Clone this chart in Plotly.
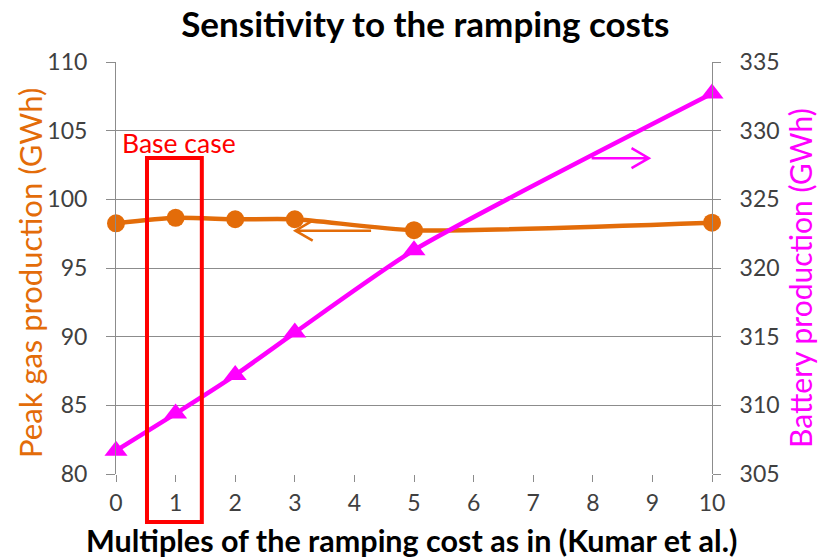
import plotly.graph_objects as go

multiples = [0, 1, 2, 3, 5, 10]
peak_gas = [98.25, 98.65, 98.55, 98.55, 97.75, 98.3]
battery = [306.7, 309.4, 312.2, 315.3, 321.3, 332.7]

ORANGE = '#E36C09'
MAGENTA = '#FF00FF'
GRID = '#8C8C8C'
TICKS = '#404040'
FONT = 'Lato'

fig = go.Figure()

fig.add_trace(go.Scatter(
    x=multiples, y=peak_gas,
    mode='lines+markers',
    line=dict(color=ORANGE, width=4.5, shape='spline', smoothing=0.6),
    marker=dict(symbol='circle', size=18, color=ORANGE),
    cliponaxis=False,
    showlegend=False
))

fig.add_trace(go.Scatter(
    x=multiples, y=battery,
    mode='lines+markers',
    line=dict(color=MAGENTA, width=4.5, shape='spline', smoothing=0.6),
    marker=dict(symbol='triangle-up', size=20, color=MAGENTA),
    cliponaxis=False,
    yaxis='y2',
    showlegend=False
))

# direction arrows and base case box
shapes = [
    dict(type='path', xref='x', yref='y',
         path='M 4.28,97.72 L 3.01,97.72 M 3.30,98.45 L 3.01,97.72 L 3.30,96.99',
         line=dict(color=ORANGE, width=2.5)),
    dict(type='path', xref='x', yref='y2',
         path='M 7.98,328.0 L 8.94,328.0 M 8.65,328.73 L 8.94,328.0 L 8.65,327.27',
         line=dict(color=MAGENTA, width=2.5)),
    dict(type='rect', xref='paper', yref='paper',
         x0=0.052, x1=0.144, y0=-0.1165, y1=0.767,
         line=dict(color='#FF0000', width=4), layer='above'),
]

annotations = [
    dict(text='Base case', xref='paper', yref='paper',
         x=0.006, y=0.803, xanchor='left', yanchor='middle',
         showarrow=False, font=dict(size=26.5, color='#FF0000')),
    dict(text='<b>Multiples of the ramping cost as in (Kumar et al.)</b>',
         xref='paper', yref='paper', x=0.4966, y=-0.160,
         xanchor='center', yanchor='middle', showarrow=False,
         font=dict(size=30.5, color='black')),
    dict(text='Peak gas production (GWh)', textangle=-90,
         xref='paper', yref='paper', x=-0.1443, y=0.488,
         xanchor='center', yanchor='middle', showarrow=False,
         font=dict(size=31, color=ORANGE)),
    dict(text='Battery production (GWh)', textangle=-90,
         xref='paper', yref='paper', x=1.1477, y=0.476,
         xanchor='center', yanchor='middle', showarrow=False,
         font=dict(size=30, color=MAGENTA)),
]

fig.update_layout(
    width=821,
    height=557,
    margin=dict(l=116, r=109, t=62, b=83),
    plot_bgcolor='white',
    paper_bgcolor='white',
    font=dict(family=FONT, color=TICKS, size=23),
    title=dict(
        text='<b>Sensitivity to the ramping costs</b>',
        x=0.518, xanchor='center', y=0.955, yanchor='middle',
        font=dict(size=35, color='black')
    ),
    xaxis=dict(
        range=[0, 10], dtick=1, tick0=0,
        showgrid=False, zeroline=False,
        showline=False, automargin=False,
        ticks='outside', ticklen=7, tickcolor=GRID,
        ticklabelstandoff=1,
    ),
    yaxis=dict(
        range=[80, 110], dtick=5,
        showgrid=True, gridcolor=GRID, gridwidth=1,
        zeroline=False, automargin=False,
        showline=True, linecolor=GRID, linewidth=1,
        ticks='outside', ticklen=9, tickcolor=GRID,
        ticklabelstandoff=14,
    ),
    yaxis2=dict(
        range=[305, 335], dtick=5,
        overlaying='y', side='right',
        showgrid=False, zeroline=False, automargin=False,
        showline=True, linecolor=GRID, linewidth=1,
        ticks='outside', ticklen=8, tickcolor=GRID,
        ticklabelstandoff=14,
    ),
    shapes=shapes,
    annotations=annotations,
)

# drop the browser's default body margin so the figure sits at the page corner
fig.write_html("out.html", config={'displayModeBar': False},
               post_script="document.body.style.margin='0';")
